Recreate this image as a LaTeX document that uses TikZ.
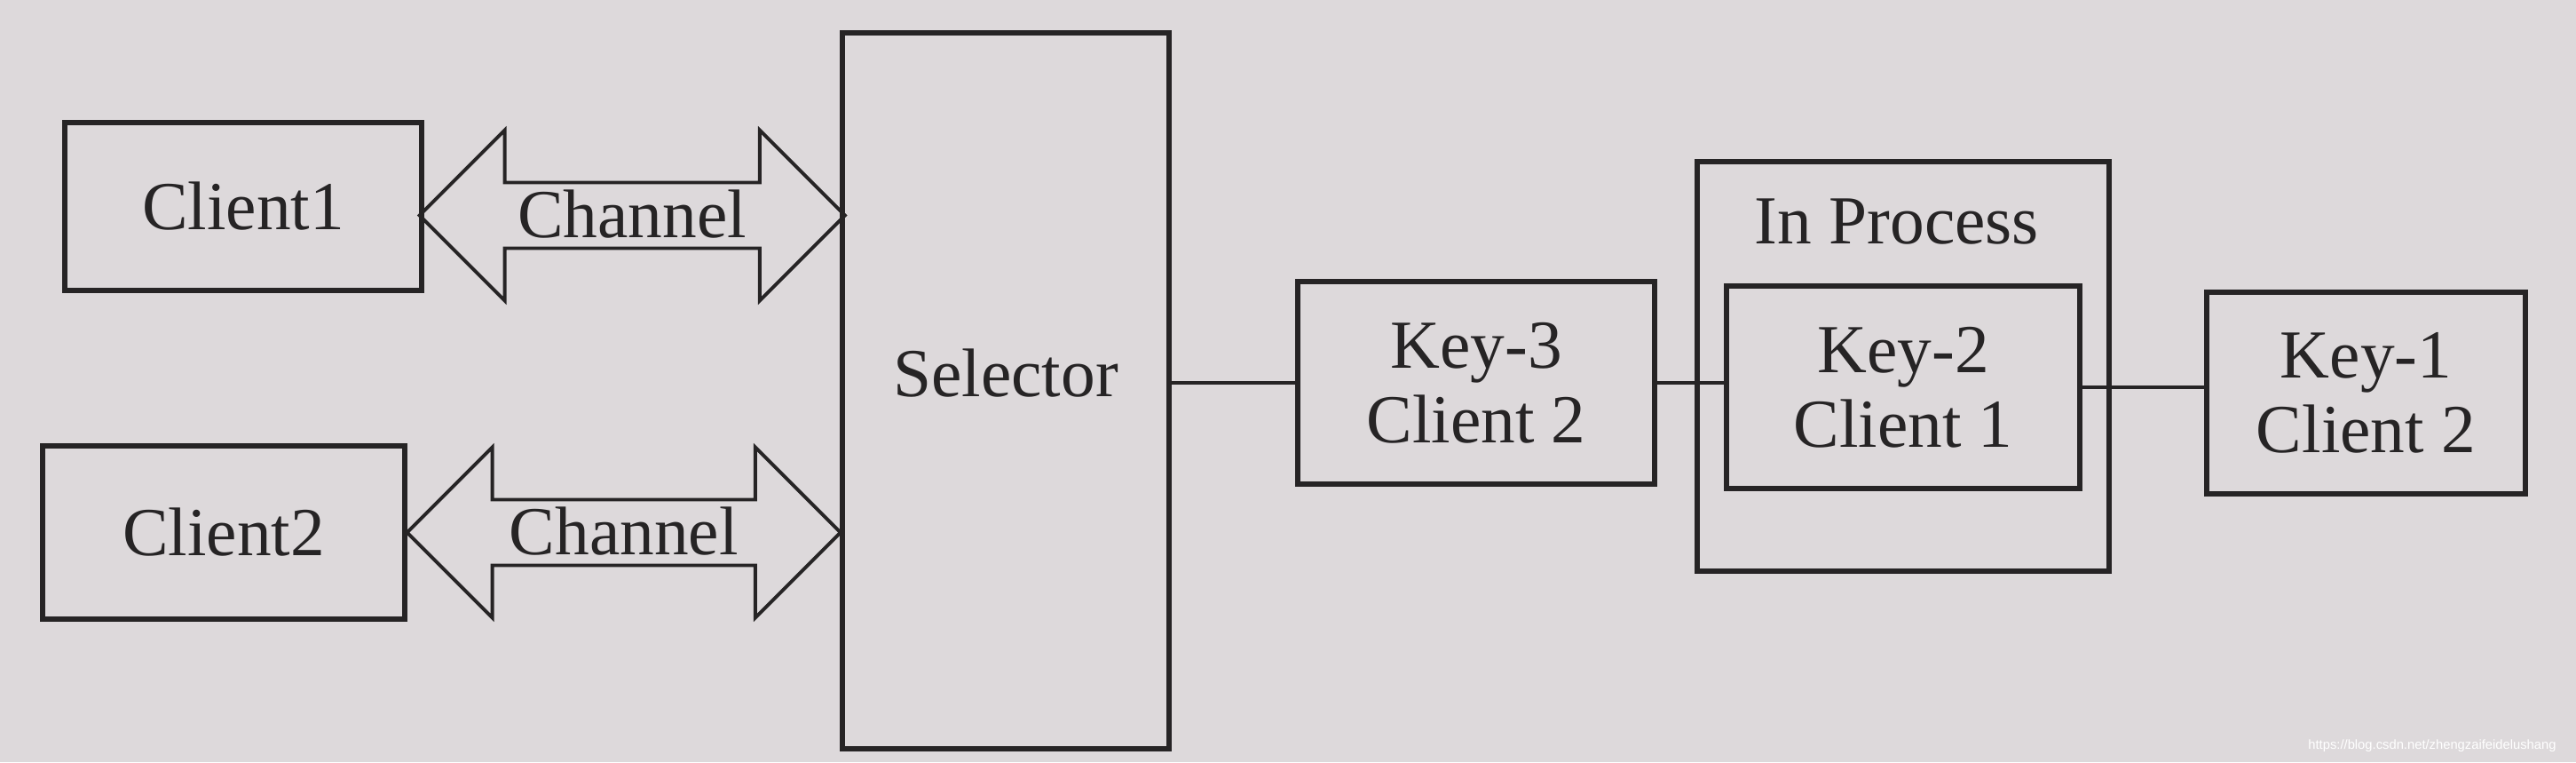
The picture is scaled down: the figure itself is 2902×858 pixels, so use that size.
\documentclass[tikz,border=0pt]{standalone}
\usepackage{fontspec}
\setmainfont{Liberation Serif}
\newfontfamily\wmfont{Liberation Sans}
\usetikzlibrary{shapes.arrows,positioning}
\definecolor{paper}{RGB}{221,217,219}
\definecolor{ink}{RGB}{38,36,37}
\begin{document}
\begin{tikzpicture}[x=0.01cm,y=-0.01cm,
  every node/.style={text=ink,font=\fontsize{22}{24}\selectfont},
  box/.style={draw=ink,line width=1.7pt,inner sep=0pt,align=center},
  link/.style={draw=ink,line width=1.3pt},
  channel/.style={double arrow,draw=ink,line width=1.1pt,inner xsep=0pt,inner ysep=0pt,
    text height=0.6cm,text depth=0.1cm,double arrow head extend=0.59cm,double arrow tip angle=90}]
\fill[paper] (0,0) rectangle (2902,858);
\node[box,minimum width=4.02cm,minimum height=1.89cm] (client1) at (274,232.5) {Client1};
\node[box,minimum width=4.08cm,minimum height=1.95cm] (client2) at (252,599.5) {Client2};
\node[box,minimum width=3.67cm,minimum height=8.05cm,
  label={[yshift=2mm]center:Selector}] (selector) at (1133,440) {};
\path (client1.east) -- (client1.east -| selector.west)
  node[midway,channel,yshift=-1mm,minimum height=4.79cm] (chan1) {Channel};
\path (client2.east) -- (client2.east -| selector.west)
  node[midway,channel,minimum height=4.88cm] (chan2) {Channel};
\node[box,minimum width=4.02cm,minimum height=2.28cm] (key3) at (1663,431) {Key-3\\Client 2};
\node[box,minimum width=4.64cm,minimum height=4.61cm] (inproc) at (2144,412.5) {};
\node (inproctext) at (2137,250) {In Process};
\node[box,minimum width=3.98cm,minimum height=2.28cm] (key2) at (2144,436) {Key-2\\Client 1};
\node[box,minimum width=3.59cm,minimum height=2.27cm] (key1) at (2665.5,442.5) {Key-1\\Client 2};
\draw[link] (key3.west) -- (key3.west -| selector.east);
\draw[link] (key3.east) -- (key3.east -| key2.west);
\draw[link] (key2.east) -- (key2.east -| key1.west);
\node[anchor=east,text=white,font=\wmfont\fontsize{4.2}{5}\selectfont] (mark) at (2892,840) {https://blog.csdn.net/zhengzaifeidelushang};
\end{tikzpicture}
\end{document}
